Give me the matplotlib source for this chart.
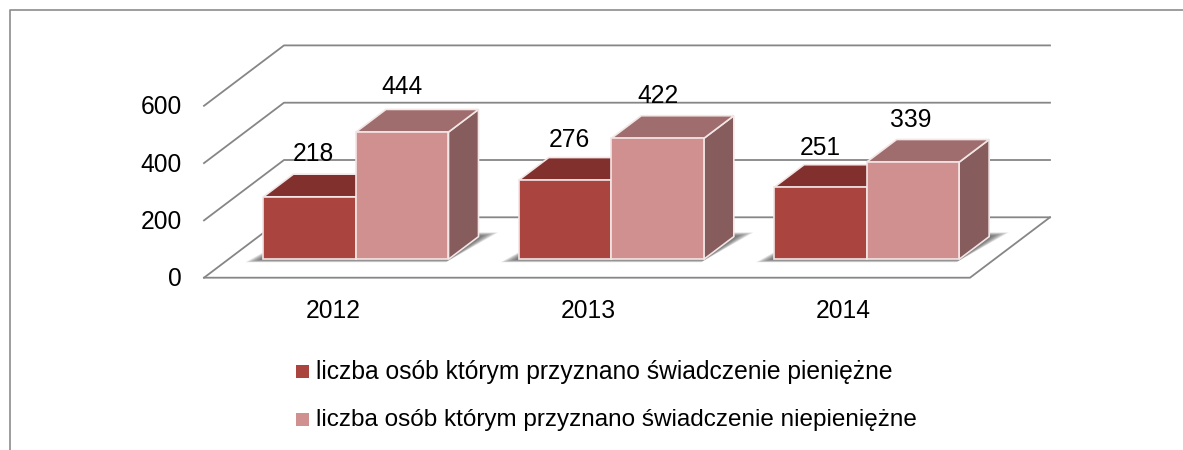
import matplotlib
matplotlib.use('Agg')
import matplotlib.pyplot as plt
from matplotlib.lines import Line2D
from matplotlib.patches import Polygon, Rectangle

# Datos
years = ['2012', '2013', '2014']
pieniezne = [218, 276, 251]
niepieniezne = [444, 422, 339]
y_ticks = [0, 200, 400, 600]
legend_labels = ['liczba osób którym przyznano świadczenie pieniężne',
                 'liczba osób którym przyznano świadczenie niepieniężne']

W, H = 1183, 450
plt.rcParams['font.family'] = ['Liberation Sans', 'DejaVu Sans']
FS = 17.7

# Escala: origen del suelo en pixeles y pixeles por unidad
X0, Y0 = 204.0, 277.7
PX_X = 255.33
PX_Y = 0.2865
DX = 80.0 / PX_X    # desplazamiento de profundidad completa
DY = 60.4 / PX_Y
GAP = 0.137
BAR_W = 0.3625
D0, D1 = 0.305, 0.68  # profundidad de las barras

GRID = '#868686'
DARK = ('#A9443F', '#81302E', '#7A3B3A')
PALE = ('#D09090', '#9F6D6D', '#865C5C')
EDGE = '#F3E6E6'

fig = plt.figure(figsize=(W / 100, H / 100), dpi=100)
ax = fig.add_axes([0, 0, 1, 1])
ax.set_xlim(-X0 / PX_X, (W - X0) / PX_X)
ax.set_ylim(-(H - Y0) / PX_Y, Y0 / PX_Y)
ax.axis('off')


def proj(x, v, d):
    return x + DX * d, v + DY * d


# Rejilla y suelo
n = len(years)
for t in y_ticks:
    ax.plot(*zip(proj(0, t, 0), proj(0, t, 1), proj(n, t, 1)), color=GRID, lw=1.3, zorder=1)
ax.plot(*zip(proj(0, 0, 0), proj(n, 0, 0), proj(n, 0, 1)), color=GRID, lw=1.3, zorder=1)


def shadow(x, w):
    # sombra difusa en el suelo, capas con poco alfa
    for k in range(10):
        s = (k + 1) / 10
        pts = [proj(x - 0.055 * s, 0, D0 - 0.05 * s), proj(x + w + 0.005, 0, D0 - 0.05 * s),
               proj(x + w + 0.055 * s, 0, D1 + 0.07 * s), proj(x, 0, D1 + 0.07 * s)]
        ax.add_patch(Polygon(pts, closed=True, fc='#303030', ec='none', alpha=0.1, zorder=2))


def bar3d(x, w, v, cols):
    front, topc, side = cols
    lw = 1.2
    a, b = proj(x, v, D0), proj(x + w, v, D0)
    ax.add_patch(Polygon([proj(x + w, 0, D0), proj(x + w, 0, D1), proj(x + w, v, D1), b],
                         closed=True, fc=side, ec=EDGE, lw=lw, zorder=3))
    ax.add_patch(Polygon([a, b, proj(x + w, v, D1), proj(x, v, D1)],
                         closed=True, fc=topc, ec=EDGE, lw=lw, zorder=3))
    ax.add_patch(Polygon([proj(x, 0, D0), proj(x + w, 0, D0), b, a],
                         closed=True, fc=front, ec=EDGE, lw=lw, zorder=3))


for i in range(n):
    shadow(i + GAP, 2 * BAR_W)
for i in range(n):
    x1 = i + GAP
    x2 = x1 + BAR_W
    bar3d(x1, BAR_W, pieniezne[i], DARK)
    bar3d(x2, BAR_W, niepieniezne[i], PALE)

# Etiquetas de datos, con su pequeño ajuste en pixeles
nudge_dark = [4, 4, 0]
nudge_pale = [0, 0, -2]
lift_dark = [3, 0, 0]
lift_pale = [2, 0, -1]
for i in range(n):
    x1 = i + GAP
    px, py = proj(x1 + BAR_W / 2, pieniezne[i], D0)
    ax.text(px + nudge_dark[i] / PX_X, py + 139 + lift_dark[i] / PX_Y, str(pieniezne[i]), fontsize=FS,
            ha='center', va='center', color='black', zorder=5)
    px, py = proj(x1 + 1.5 * BAR_W, niepieniezne[i], D0)
    ax.text(px + nudge_pale[i] / PX_X, py + 149 + lift_pale[i] / PX_Y, str(niepieniezne[i]), fontsize=FS,
            ha='center', va='center', color='black', zorder=5)

# Eje Y y categorias
for t in y_ticks:
    ax.text(-22 / PX_X, t - 1.5 / PX_Y, str(t), fontsize=FS, ha='right', va='center', color='black')
for i, y in enumerate(years):
    ax.text(i + 0.505, -33 / PX_Y, y, fontsize=FS, ha='center', va='center', color='black')

# Leyenda
for (y_px, lab, c, fs) in zip([371.5, 419.5], legend_labels, [DARK[0], PALE[0]], [FS, 17.5]):
    fig.add_artist(Rectangle((296 / W, 1 - (y_px + 6.5) / H), 13 / W, 13 / H,
                             transform=fig.transFigure, fc=c, ec='none'))
    fig.text(316 / W, 1 - (y_px + 0.5) / H, lab, fontsize=fs, ha='left', va='center', color='black')

# Marco
fig.add_artist(Line2D([9.5 / W, 9.5 / W, 1], [0, 1 - 10 / H, 1 - 10 / H],
                      transform=fig.transFigure, color='#8C8C8C', lw=1.2))

fig.savefig('out.png', dpi=100)
